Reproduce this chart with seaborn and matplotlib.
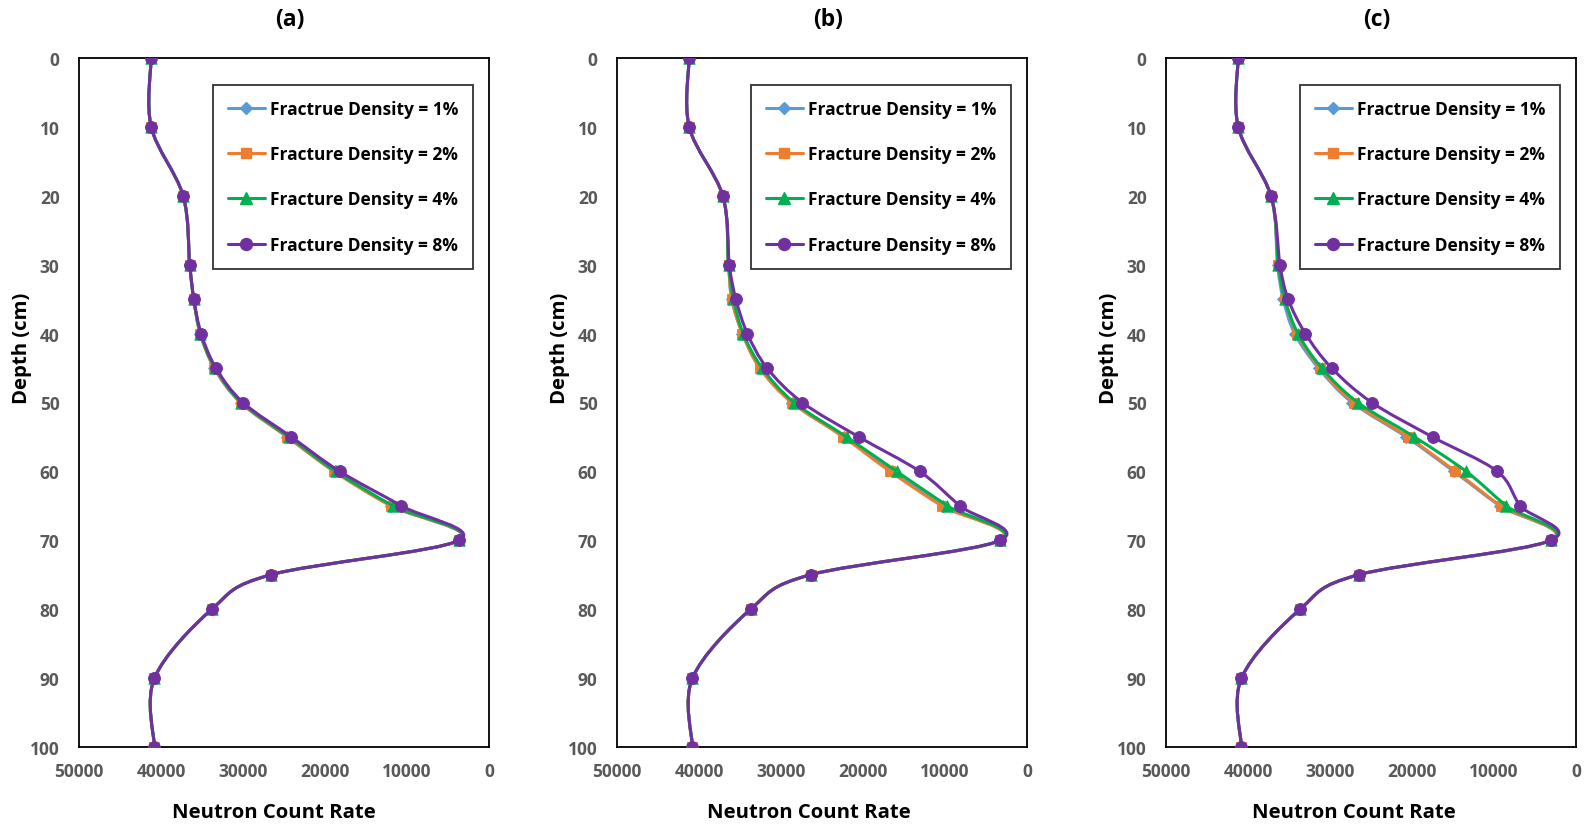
import matplotlib
matplotlib.use("Agg")
import numpy as np
import pandas as pd
import seaborn as sns
import matplotlib.pyplot as plt
from matplotlib.path import Path
from matplotlib.patches import PathPatch
from matplotlib.lines import Line2D

# Depth of each measurement (cm)
depth = [0, 10, 20, 30, 35, 40, 45, 50, 55, 60, 65, 70, 75, 80, 90, 100]

# (a) neutron count rate per fracture density
a_fd1 = [41200, 41200, 37300, 36500, 36000, 35200, 33500, 30300, 24600, 18800, 11900, 3650, 26600, 33800, 40800, 40800]
a_fd2 = [41200, 41200, 37300, 36500, 36000, 35200, 33500, 30300, 24600, 18900, 12000, 3650, 26600, 33800, 40800, 40800]
a_fd4 = [41200, 41200, 37300, 36500, 36000, 35200, 33400, 30200, 24400, 18700, 11700, 3650, 26600, 33800, 40800, 40800]
a_fd8 = [41200, 41200, 37300, 36500, 36000, 35100, 33300, 30000, 24100, 18200, 10700, 3650, 26600, 33800, 40800, 40800]

# (b)
b_fd1 = [41200, 41200, 37100, 36400, 36000, 34700, 32500, 28600, 22300, 16500, 10200, 3250, 26400, 33700, 40800, 40800]
b_fd2 = [41200, 41200, 37100, 36400, 36000, 34700, 32600, 28700, 22400, 16700, 10400, 3250, 26400, 33700, 40800, 40800]
b_fd4 = [41200, 41200, 37100, 36400, 35800, 34600, 32300, 28400, 22000, 15900, 9700, 3250, 26400, 33700, 40800, 40800]
b_fd8 = [41200, 41200, 37100, 36300, 35500, 34100, 31700, 27400, 20500, 13100, 8200, 3250, 26400, 33700, 40800, 40800]

# (c)
c_fd1 = [41200, 41200, 37200, 36400, 35700, 34300, 31400, 27300, 20700, 14900, 9300, 3050, 26500, 33650, 40800, 40800]
c_fd2 = [41200, 41200, 37200, 36300, 35500, 34000, 31200, 27100, 20500, 14700, 9200, 3050, 26500, 33650, 40800, 40800]
c_fd4 = [41200, 41200, 37200, 36300, 35500, 33900, 31000, 26600, 19700, 13400, 8500, 3050, 26500, 33650, 40800, 40800]
c_fd8 = [41200, 41200, 37200, 36100, 35100, 33000, 29800, 24900, 17500, 9600, 6800, 3050, 26500, 33650, 40800, 40800]

panel_titles = ["(a)", "(b)", "(c)"]
series_labels = ["Fractrue Density = 1%", "Fracture Density = 2%",
                 "Fracture Density = 4%", "Fracture Density = 8%"]
x_ticks = [50000, 40000, 30000, 20000, 10000, 0]
y_ticks = [0, 10, 20, 30, 40, 50, 60, 70, 80, 90, 100]

panels = [
    [a_fd1, a_fd2, a_fd4, a_fd8],
    [b_fd1, b_fd2, b_fd4, b_fd8],
    [c_fd1, c_fd2, c_fd4, c_fd8],
]

colors = ["#5B9BD5", "#ED7D31", "#00B050", "#7030A0"]
markers = ["D", "s", "^", "o"]
marker_area = [38, 56, 68, 74]
legend_msize = [6.0, 7.2, 8.2, 8.6]

sns.set_theme(style="white")
plt.rcParams["font.family"] = ["Open Sans", "DejaVu Sans"]
plt.rcParams["font.weight"] = "bold"


def smooth_curve(xs, ys, tension=1 / 6):
    """Cubic Bezier path through the points (Catmull-Rom style smoothing)."""
    pts = np.column_stack([xs, ys]).astype(float)
    n = len(pts)
    verts = [pts[0]]
    codes = [Path.MOVETO]
    for i in range(n - 1):
        p0 = pts[i - 1] if i > 0 else pts[i]
        p1 = pts[i]
        p2 = pts[i + 1]
        p3 = pts[i + 2] if i + 2 < n else pts[i + 1]
        c1 = p1 + (p2 - p0) * tension
        c2 = p2 - (p3 - p1) * tension
        verts += [c1, c2, p2]
        codes += [Path.CURVE4] * 3
    return Path(verts, codes)


fig = plt.figure(figsize=(15.95, 8.28), dpi=100)
fig.patch.set_facecolor("white")

ax_lefts = [79, 617, 1166]
W, H = 1595, 828
ax_w, ax_top, ax_bottom = 410, 59, 748
xlabel_x = [0.476, 0.468, 0.458]

for p, (series, title) in enumerate(zip(panels, panel_titles)):
    ax = fig.add_axes([ax_lefts[p] / W, (H - ax_bottom) / H,
                       ax_w / W, (ax_bottom - ax_top) / H])
    for k, vals in enumerate(series):
        df = pd.DataFrame({"count": vals, "depth": depth})
        ax.add_patch(PathPatch(smooth_curve(df["count"], df["depth"]),
                               facecolor="none", edgecolor=colors[k],
                               linewidth=2.2, zorder=2 + 2 * k,
                               capstyle="round", joinstyle="round"))
        sns.scatterplot(data=df, x="count", y="depth", ax=ax,
                        marker=markers[k], s=marker_area[k],
                        color=colors[k], edgecolor=colors[k], linewidth=0.6,
                        zorder=3 + 2 * k, legend=False)

    ax.set_xlim(50000, 0)
    ax.set_ylim(100, 0)
    ax.set_xticks(x_ticks)
    ax.set_yticks(y_ticks)
    ax.set_xticklabels([str(v) for v in x_ticks])
    ax.set_yticklabels([str(v) for v in y_ticks])
    ax.tick_params(axis="both", length=0, labelsize=12.5, labelcolor="#595959")
    ax.tick_params(axis="y", pad=14)
    ax.tick_params(axis="x", pad=11)
    for lab in ax.get_xticklabels() + ax.get_yticklabels():
        lab.set_fontweight("bold")
    for sp in ax.spines.values():
        sp.set_visible(True)
        sp.set_color("black")
        sp.set_linewidth(1.3)
    ax.grid(False)

    ax.set_xlabel("Neutron Count Rate", fontsize=14.6, fontweight="bold", color="black")
    ax.set_ylabel("Depth (cm)", fontsize=14.6, fontweight="bold", color="black")
    ax.xaxis.set_label_coords(xlabel_x[p], -0.08)
    ax.yaxis.set_label_coords(-0.115, 0.58)

    ax.set_title(title, fontsize=16.5, fontweight="bold", pad=24, color="black")
    ax.title.set_x(0.514)

    handles = [Line2D([0], [0], color=colors[k], lw=2.2, marker=markers[k],
                      markersize=legend_msize[k], markeredgecolor=colors[k])
               for k in range(4)]
    leg = ax.legend(handles, series_labels, loc="upper right",
                    bbox_to_anchor=(0.961, 0.961), borderaxespad=0,
                    frameon=True, fancybox=False, edgecolor="black",
                    prop={"size": 12.5, "weight": "bold"},
                    handlelength=2.1, handletextpad=0.3,
                    labelspacing=1.58, borderpad=0.85)
    leg.get_frame().set_linewidth(1.3)
    for t in leg.get_texts():
        t.set_color("black")

fig.savefig("out.png", dpi=100, facecolor="white")
